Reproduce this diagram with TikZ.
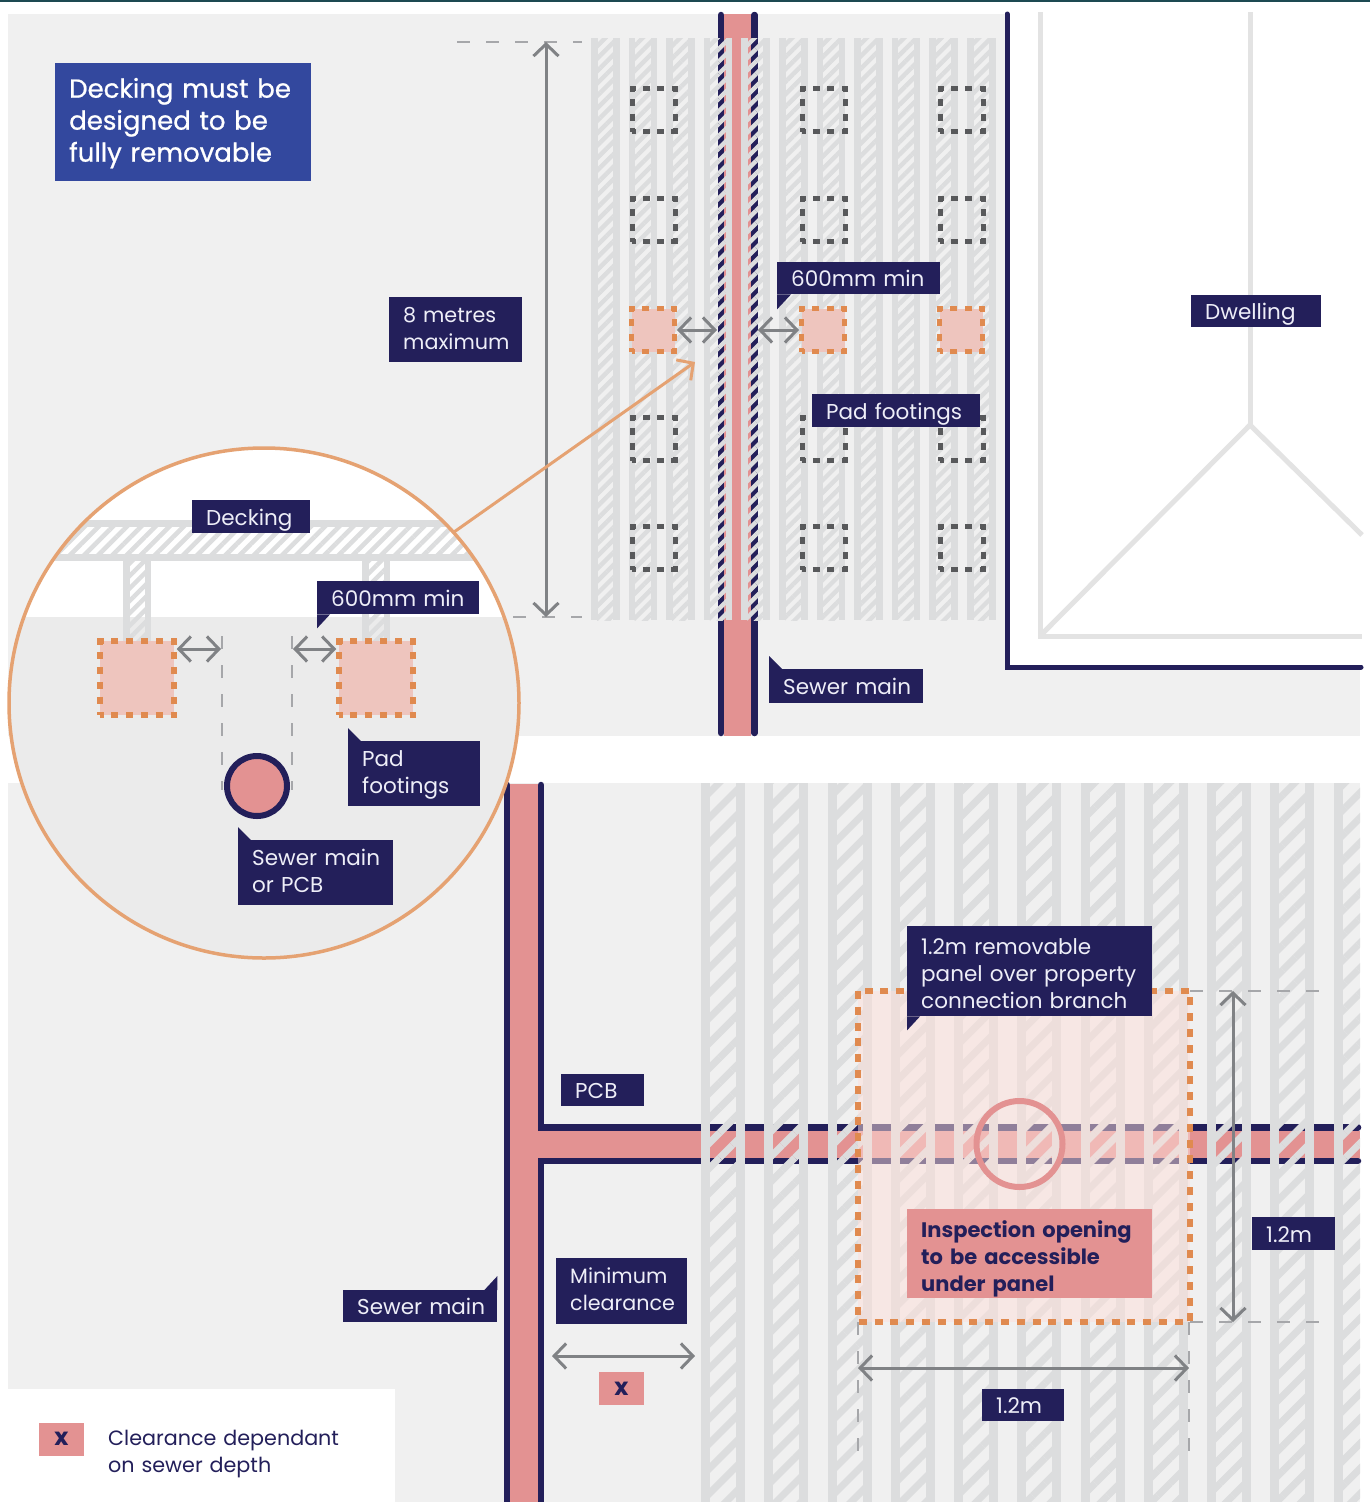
\documentclass[tikz,border=0pt]{standalone}
\usepackage{fontspec}
\setmainfont{Poppins}
\newfontfamily\headfont[FakeBold=0.8]{Poppins}
\usetikzlibrary{arrows.meta,patterns.meta}

\definecolor{navy}{HTML}{231F5A}
\definecolor{headblue}{HTML}{33489E}
\definecolor{pipepink}{HTML}{E39292}
\definecolor{padorange}{HTML}{E08A4F}
\definecolor{lensorange}{HTML}{E5A272}
\definecolor{padfill}{HTML}{EEC5BE}
\definecolor{panelfill}{HTML}{FEE0DA}
\definecolor{ground}{HTML}{F0F0F0}
\definecolor{joistgrey}{HTML}{DCDDDE}
\definecolor{dimgrey}{HTML}{808285}
\definecolor{padgrey}{HTML}{58595B}
\definecolor{labelink}{HTML}{EEEEF8}
\definecolor{topline}{HTML}{1D4A52}

\tikzset{
  lbl/.style={fill=navy, text=labelink, align=left, anchor=north west, inner sep=0pt, font=\fontsize{21.5}{27}\selectfont, execute at begin node={\leftskip=14pt\relax}, text height=22pt, text depth=5pt},
  twolbl/.style={lbl, text depth=37pt},
  threelbl/.style={lbl, text depth=55pt},
  narrowlbl/.style={twolbl, font=\fontsize{20.7}{27}\selectfont},
  pinklbl/.style={threelbl, fill=pipepink, text=navy, font=\fontsize{21}{27}\selectfont\bfseries},
  xbox/.style={fill=pipepink, text=navy, inner sep=0pt, minimum width=45pt, minimum height=33pt, font=\fontsize{24}{27}\selectfont\bfseries},
  padempty/.style={draw=padgrey, line width=5pt, dash pattern=on 7pt off 7.33pt, dash phase=3.5pt, minimum size=43pt, inner sep=0pt},
  padfull/.style={padempty, draw=padorange, fill=padfill},
  padbig/.style={padfull, line width=5.5pt, dash pattern=on 7pt off 7.8pt, dash phase=3.5pt, minimum size=74pt},
  dim/.style={draw=dimgrey, line width=3pt, <->, >={Straight Barb[length=12pt,width=25pt]}},
  guide/.style={draw=dimgrey!70, line width=2pt, dash pattern=on 13pt off 16pt},
  smallhatch/.style={pattern={Lines[angle=45,distance=8.8pt,line width=4.4pt]}, pattern color=joistgrey},
  bighatch/.style={pattern={Lines[angle=45,distance=17.7pt,line width=7pt]}, pattern color=joistgrey},
  navyline/.style={draw=navy, line width=6.5pt, line cap=round},
  houseline/.style={draw=black!11, line width=5pt}
}

\begin{document}
\begin{tikzpicture}[x=1pt, y=-1pt]

   \useasboundingbox (0,0) rectangle (1370,1502);

   \fill[white] (0,0) rectangle (1370,1502);
   \fill[topline] (0,0) rectangle (1370,1.5);
   \fill[ground] (8,14) rectangle (1360,736);
   \fill[ground] (8,783) rectangle (1360,1502);
   \fill[white] (1007,14) rectangle (1360,667);
   \fill[white] (8,1389) rectangle (395,1502);


   \draw[houseline] (1040,12) -- (1040,636) -- (1362,636);
   \draw[houseline] (1250,12) -- (1250,425);
   \draw[houseline] (1040,636) -- (1250,425) -- (1362,535);
   \draw[navyline, line width=5pt] (1007,14) -- (1007,667) -- (1361,667);


   \fill[pipepink] (724,14) rectangle (751,736);
   \draw[navyline] (721,15) -- (721,733);
   \draw[navyline] (754.5,15) -- (754.5,733);

   \foreach \jx in {591,628.6,666.2,703.8,741.4,779,816.6,854.2,891.8,929.4,967} {
      \fill[joistgrey] (\jx,38) rectangle ++(6.5,582);
      \fill[joistgrey] (\jx+22,38) rectangle ++(6.5,582);
      \fill[smallhatch] (\jx+6,38) rectangle ++(16.5,582);
   }

   \foreach \jy/\jr in {110/a,220/b,439/d,548/e} {
      \node[padempty] (padL\jr) at (653.5,\jy) {};
      \node[padempty] (padM\jr) at (823.5,\jy) {};
      \node[padempty] (padR\jr) at (961.5,\jy) {};
   }
   \node[padfull] (padLc) at (653,330) {};
   \node[padfull] (padMc) at (823,330) {};
   \node[padfull] (padRc) at (961,330) {};

   \coordinate (pipeL) at (717,330);
   \coordinate (pipeR) at (758,330);
   \draw[dim] (padLc) -- (pipeL);
   \draw[dim] (pipeR) -- (padMc);

   \coordinate (topdim) at (546,42);
   \coordinate (botdim) at (546,617);
   \draw[guide] (457,42) -- (582,42);
   \draw[guide] (513,617) -- (582,617);
   \draw[dim] (topdim) -- (botdim);


   \fill[pipepink] (510,784) rectangle (537.5,1502);
   \fill[pipepink] (537.5,1131) rectangle (1360,1158);
   \draw[navyline] (507,785) -- (507,1505);
   \draw[navyline] (541,785) -- (541,1127.5) -- (1358,1127.5);
   \draw[navyline] (541,1505) -- (541,1161) -- (1358,1161);

   \foreach \jx in {701,764.25,827.5,890.75,954,1017.25,1080.5,1143.75,1207,1270.25} {
      \fill[joistgrey] (\jx,783) rectangle ++(9,719);
      \fill[joistgrey] (\jx+35,783) rectangle ++(9,719);
      \fill[bighatch] (\jx+8.5,783) rectangle ++(27,719);
   }
   \fill[joistgrey] (1333.5,783) rectangle ++(9,719);
   \fill[bighatch] (1342,783) rectangle (1360,1502);


   \fill[panelfill, fill opacity=.5] (858,991) rectangle (1190,1322);
   \draw[padorange, line width=5.5pt, dash pattern=on 8pt off 7.8pt] (858,991) rectangle (1190,1322);
   \node[circle, draw=pipepink, line width=6pt, minimum size=86pt, inner sep=0pt] (hatch) at (1019.5,1144) {};

   \draw[guide] (1190,991) -- (1326,991);
   \draw[guide] (1190,1322) -- (1326,1322);
   \draw[guide] (858,1322) -- (858,1462);
   \draw[guide] (1189,1322) -- (1189,1462);

   \coordinate (paneltop) at (1233,991);
   \coordinate (panelbot) at (1233,1322);
   \coordinate (panelleft) at (858,1368);
   \coordinate (panelright) at (1189,1368);
   \draw[dim] (paneltop) -- (panelbot);
   \draw[dim] (panelleft) -- (panelright);

   \coordinate (clearL) at (552,1356);
   \coordinate (clearR) at (695,1356);
   \draw[dim] (clearL) -- (clearR);


   \begin{scope}
      \clip (264,703) circle (255);
      \fill[white] (0,440) rectangle (530,617);
      \fill[black!8] (0,617) rectangle (530,960);
      \fill[joistgrey] (0,520) rectangle (530,527);
      \fill[joistgrey] (0,554) rectangle (530,561);
      \fill[pattern={Lines[angle=45,distance=10pt,line width=4.6pt]}, pattern color=joistgrey] (0,526) rectangle (530,555);
      \foreach \jx in {123,362} {
         \fill[joistgrey] (\jx,561) rectangle ++(6.5,80);
         \fill[joistgrey] (\jx+21.5,561) rectangle ++(6.5,80);
         \fill[smallhatch] (\jx+6,561) rectangle ++(16,80);
      }
   \end{scope}

   \node[circle, draw=lensorange, line width=3.5pt, minimum size=510pt, inner sep=0pt, outer sep=0pt] (lens) at (264,703) {};
   \coordinate (target) at (695,362);
   \draw[lensorange, line width=3pt, ->, >={Straight Barb[length=12pt,width=25pt]}] (lens.42.5) -- (target);

   \node[padbig] (lensL) at (137,678) {};
   \node[padbig] (lensR) at (376,678) {};

   \draw[guide] (221.5,636) -- (221.5,790);
   \draw[guide] (291.5,636) -- (291.5,790);
   \coordinate (gapL) at (221,649);
   \coordinate (gapR) at (293,649);
   \draw[dim] (lensL.east |- gapL) -- (gapL);
   \draw[dim] (gapR) -- (lensR.west |- gapR);

   \node[circle, draw=navy, fill=pipepink, line width=6pt, minimum size=60pt, inner sep=0pt] (sewer) at (257,786) {};


   \node[lbl, text depth=71pt, fill=headblue, text=white, text width=256pt, minimum height=118pt, font=\fontsize{26}{32}\selectfont\headfont] (head) at (55,63) {Decking must be\\designed to be\\fully removable};
   \node[narrowlbl, text width=133pt, minimum height=65pt] (eight) at (389,297) {8 metres\\maximum};
   \node[lbl, text width=163pt, minimum height=32pt] (minA) at (777,262) {600mm min};
   \fill[navy] (minA.south west) -- ++(0,15) -- ++(14,-15) -- cycle;
   \node[lbl, text width=130pt, minimum height=32pt] (house) at (1191,295) {Dwelling};
   \node[lbl, text width=168pt, minimum height=33pt] (padsA) at (812,394) {Pad footings};
   \node[lbl, text width=154pt, minimum height=34pt] (mainA) at (769,669) {Sewer main};
   \fill[navy] (mainA.north west) -- ++(0,-13) -- ++(13,13) -- cycle;

   \node[lbl, text width=118pt, minimum height=33pt] (deck) at (192,500) {Decking};
   \node[lbl, text width=162pt, minimum height=33pt] (minB) at (317,581) {600mm min};
   \fill[navy] (minB.south west) -- ++(0,14) -- ++(13,-14) -- cycle;
   \node[twolbl, text width=132pt, minimum height=65pt] (padsB) at (348,741) {Pad\\footings};
   \fill[navy] (padsB.north west) -- ++(0,-13) -- ++(13,13) -- cycle;
   \node[twolbl, text width=155pt, minimum height=65pt] (mainB) at (238,840) {Sewer main\\or PCB};
   \fill[navy] (mainB.north west) -- ++(0,-13) -- ++(13,13) -- cycle;

   \node[lbl, text width=83pt, minimum height=32pt] (pcb) at (561,1074) {PCB};
   \node[narrowlbl, text width=131pt, minimum height=66pt] (clear) at (556,1258) {Minimum\\clearance};
   \node[xbox] (xA) at (621.5,1388.5) {x};
   \node[lbl, text width=154pt, minimum height=32pt] (mainC) at (343,1290) {Sewer main};
   \fill[navy] (mainC.north east) -- ++(0,-14) -- ++(-13,14) -- cycle;
   \node[threelbl, text width=245pt, minimum height=90pt] (panel) at (907,926) {1.2m removable\\panel over property\\connection branch};
   \fill[navy] (panel.south west) -- ++(0,14) -- ++(13,-14) -- cycle;
   \node[pinklbl, text width=245pt, minimum height=89pt] (inspect) at (907,1209) {Inspection opening\\to be accessible\\under panel};
   \node[lbl, text width=83pt, minimum height=33pt] (sizeA) at (1252,1217) {1.2m};
   \node[lbl, text width=82pt, minimum height=32pt] (sizeB) at (982,1389) {1.2m};

   \node[xbox] (xB) at (61.5,1439) {x};
   \node[narrowlbl, fill=none, text=navy, text width=280pt, minimum height=54pt] (legend) at (94,1423) {Clearance dependant\\on sewer depth};

\end{tikzpicture}
\end{document}
